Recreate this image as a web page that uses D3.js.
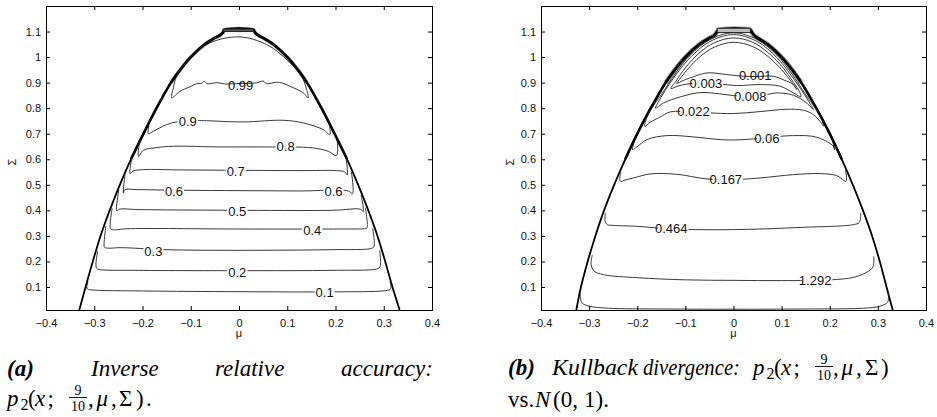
<!DOCTYPE html>
<html><head><meta charset="utf-8">
<script src="https://cdn.jsdelivr.net/npm/d3@7"></script>
<style>
body{margin:0;background:#fff;}
svg{display:block;background:#fff;}
</style></head><body>
<svg id="c" width="937" height="417"></svg>
<script>
// ---------------- data ----------------
const muDomain = [-0.4, 0.4];
const sigmaDomain = [0.01, 1.2];
const xTicks = [-0.4,-0.3,-0.2,-0.1,0,0.1,0.2,0.3,0.4];
const xTickLabels = ["\u22120.4","\u22120.3","\u22120.2","\u22120.1","0","0.1","0.2","0.3","0.4"];
const yTicks = [0.1,0.2,0.3,0.4,0.5,0.6,0.7,0.8,0.9,1.0,1.1];
const yTickLabels = ["0.1","0.2","0.3","0.4","0.5","0.6","0.7","0.8","0.9","1","1.1"];

// admissible region boundary (mu, Sigma)
const boundaryA = [[-0.331,0.01],[-0.318,0.1],[-0.303,0.2],[-0.287,0.3],[-0.268,0.4],[-0.247,0.5],[-0.224,0.6],[-0.198,0.7],[-0.171,0.8],[-0.141,0.9],[-0.122,0.95],[-0.1,1.0],[-0.071,1.05],[-0.05,1.075],[-0.04,1.085],[-0.033,1.097],[-0.03,1.106],[0.03,1.106],[0.033,1.097],[0.04,1.085],[0.05,1.075],[0.071,1.05],[0.1,1.0],[0.122,0.95],[0.141,0.9],[0.171,0.8],[0.198,0.7],[0.224,0.6],[0.247,0.5],[0.268,0.4],[0.287,0.3],[0.303,0.2],[0.318,0.1],[0.333,0.01]];
const boundaryB = [[-0.3266,0.01],[-0.317,0.1],[-0.303,0.2],[-0.287,0.3],[-0.269,0.4],[-0.248,0.5],[-0.225,0.6],[-0.2,0.7],[-0.172,0.8],[-0.141,0.9],[-0.122,0.95],[-0.1,1.0],[-0.071,1.05],[-0.05,1.075],[-0.04,1.085],[-0.035,1.097],[-0.031,1.106],[0.035,1.106],[0.038,1.097],[0.043,1.085],[0.05,1.075],[0.071,1.05],[0.1,1.0],[0.122,0.95],[0.141,0.9],[0.172,0.8],[0.2,0.7],[0.225,0.6],[0.248,0.5],[0.269,0.4],[0.288,0.3],[0.304,0.2],[0.318,0.1],[0.3308,0.01]];
const capAMu = [-0.033, 0.03], capASigma = [1.1, 1.11];
const capBMu = [-0.034, 0.035], capBSigma = [1.096, 1.113];

// (a) inverse relative accuracy contours
const acc099 = [[-0.1394,0.8402],[-0.1222,0.8663],[-0.1,0.885],[-0.0877,0.8963],[-0.078,0.897],[-0.072,0.905],[-0.066,0.896],[-0.045,0.9],[-0.03,0.895],[-0.0048,0.8963],[0.02,0.897],[0.0366,0.899],[0.05,0.906],[0.057,0.896],[0.078,0.9016],[0.09,0.898],[0.1056,0.8859],[0.1332,0.8598],[0.1436,0.8402],[0.139,0.88],[0.1298,0.925],[0.0987,0.9903],[0.0573,1.0491],[0,1.0791],[-0.06,1.0556],[-0.1015,0.9969],[-0.1291,0.925],[-0.136,0.88]];
const acc090 = [[-0.184,0.76],[-0.1877,0.7],[-0.1774,0.7097],[-0.1498,0.7358],[-0.1256,0.7475],[-0.0877,0.7514],[-0.0739,0.7514],[0.009,0.7462],[0.0918,0.7527],[0.1332,0.7423],[0.1746,0.7162],[0.1884,0.6966],[0.185,0.758]];
const acc080 = [[-0.205,0.68],[-0.2085,0.6117],[-0.1981,0.6352],[-0.1705,0.6457],[-0.136,0.6509],[-0.0393,0.6483],[0.0573,0.6483],[0.1539,0.6444],[0.185,0.6313],[0.2022,0.6144],[0.203,0.686]];
const acc070 = [[-0.222,0.607],[-0.2257,0.544],[-0.2188,0.5543],[-0.1981,0.5595],[-0.1153,0.5582],[0,0.5569],[0.1263,0.5556],[0.2022,0.5556],[0.2195,0.5504],[0.2243,0.5386],[0.222,0.607]];
const acc060 = [[-0.236,0.543],[-0.2395,0.4681],[-0.2361,0.4812],[-0.2119,0.4812],[-0.1153,0.4786],[0,0.4773],[0.1263,0.476],[0.2264,0.476],[0.2354,0.4655],[0.233,0.55]];
const acc050 = [[-0.249,0.48],[-0.2533,0.398],[-0.2478,0.4045],[-0.205,0.4029],[0,0.4003],[0.1953,0.4003],[0.2519,0.4045],[0.2575,0.396],[0.253,0.46]];
const acc040 = [[-0.263,0.408],[-0.267,0.345],[-0.266,0.327],[-0.258,0.324],[-0.2326,0.328],[0,0.327],[0.1953,0.327],[0.258,0.328],[0.265,0.33],[0.266,0.345],[0.262,0.41]];
const acc030 = [[-0.276,0.338],[-0.2796,0.27],[-0.2785,0.255],[-0.27,0.252],[-0.2464,0.254],[-0.15,0.246],[0,0.2436],[0.1953,0.2462],[0.272,0.25],[0.279,0.256],[0.2805,0.275],[0.277,0.33]];
const acc020 = [[-0.293,0.24],[-0.2965,0.185],[-0.2945,0.172],[-0.2878,0.1679],[-0.2188,0.1653],[0,0.164],[0.1953,0.1653],[0.2851,0.1705],[0.292,0.178],[0.2935,0.195],[0.2915,0.245]];
const acc010 = [[-0.313,0.12],[-0.3155,0.1],[-0.314,0.092],[-0.303,0.0883],[-0.2,0.0845],[0,0.0817],[0.2,0.081],[0.3,0.085],[0.3125,0.09],[0.315,0.1],[0.313,0.12]];
const accLabelText  = ["0.99","0.9","0.8","0.7","0.6","0.6","0.5","0.4","0.3","0.2","0.1"];
const accLabelMu    = [0.0035,-0.1063,0.0966,-0.0069,-0.1346,0.196,-0.0035,0.1519,-0.1774,-0.0035,0.1774];
const accLabelSigma = [0.8885,0.7488,0.6483,0.553,0.4747,0.472,0.3937,0.3206,0.2397,0.1574,0.0791];

// (b) Kullback divergence contours
const kl0001 = [[-0.118,0.897],[-0.105,0.908],[-0.09,0.9185],[-0.0554,0.938],[-0.0138,0.9316],[0.02,0.925],[0.046,0.924],[0.083,0.925],[0.105,0.91],[0.1246,0.8924],[0.1315,0.873],[0.12,0.904],[0.1,0.951],[0.07,1.005],[0.04,1.041],[0,1.058],[-0.04,1.039],[-0.07,1.001],[-0.095,0.953],[-0.11,0.918]];
const kl0003 = [[-0.13,0.877],[-0.115,0.887],[-0.09,0.896],[-0.0574,0.896],[-0.02,0.893],[0.0069,0.8885],[0.0554,0.8924],[0.0969,0.8859],[0.1246,0.8598],[0.14,0.845],[0.137,0.865],[0.125,0.9],[0.1,0.965],[0.07,1.02],[0.04,1.058],[0,1.075],[-0.04,1.056],[-0.07,1.018],[-0.1,0.958],[-0.12,0.905]];
const kl0008 = [[-0.162,0.8],[-0.145,0.8206],[-0.1107,0.8441],[-0.0692,0.8611],[-0.0277,0.8559],[0,0.8493],[0.0346,0.847],[0.0692,0.8533],[0.09,0.8598],[0.1246,0.8506],[0.1522,0.82],[0.1661,0.7945],[0.16,0.815],[0.145,0.86],[0.12,0.928],[0.09,0.998],[0.05,1.06],[0,1.088],[-0.05,1.06],[-0.09,0.998],[-0.12,0.93],[-0.145,0.86],[-0.156,0.825]];
const kl0022 = [[-0.1841,0.7292],[-0.173,0.7449],[-0.1522,0.7658],[-0.1315,0.7854],[-0.083,0.785],[-0.0484,0.7815],[0,0.7789],[0.0554,0.7867],[0.1107,0.7958],[0.1453,0.7919],[0.1661,0.7749],[0.1834,0.7397],[0.1869,0.7292],[0.183,0.76],[0.17,0.8],[0.15,0.853],[0.12,0.938],[0.09,1.008],[0.05,1.068],[0,1.095],[-0.05,1.068],[-0.09,1.008],[-0.12,0.938],[-0.15,0.853],[-0.17,0.8],[-0.18,0.765]];
const kl006 = [[-0.204,0.68],[-0.2097,0.637],[-0.2007,0.6483],[-0.1799,0.677],[-0.1384,0.6927],[-0.083,0.6875],[-0.0277,0.677],[0,0.6757],[0.0415,0.6796],[0.1246,0.6927],[0.173,0.6862],[0.2076,0.6509],[0.2097,0.637],[0.205,0.68]];
const kl0167 = [[-0.2345,0.55],[-0.2353,0.5138],[-0.2249,0.519],[-0.2076,0.5269],[-0.173,0.5426],[-0.1176,0.5413],[-0.0554,0.523],[0,0.5204],[0.0554,0.5269],[0.1246,0.5399],[0.1799,0.5439],[0.2145,0.536],[0.2339,0.5138],[0.2325,0.56]];
const kl0464 = [[-0.2664,0.39],[-0.2664,0.355],[-0.262,0.344],[-0.25,0.341],[-0.2007,0.3376],[-0.1294,0.3272],[0,0.3246],[0.1453,0.3337],[0.2491,0.3442],[0.2616,0.3533],[0.2644,0.39]];
const kl1292 = [[-0.2935,0.225],[-0.296,0.19],[-0.29,0.163],[-0.27,0.1483],[-0.2,0.1365],[-0.1,0.128],[0,0.126],[0.1,0.125],[0.2,0.128],[0.25,0.138],[0.2803,0.1613],[0.29,0.18],[0.2915,0.22]];
const klBottom = [[-0.319,0.085],[-0.318,0.06],[-0.315,0.038],[-0.3,0.025],[-0.26,0.017],[-0.15,0.014],[0,0.013],[0.15,0.014],[0.27,0.017],[0.305,0.025],[0.32,0.04],[0.322,0.06],[0.321,0.085]];
const klLabelText  = ["0.001","0.003","0.008","0.022","0.06","0.167","0.464","1.292"];
const klLabelMu    = [0.045,-0.0574,0.0346,-0.083,0.0692,-0.0159,-0.1294,0.1696];
const klLabelSigma = [0.9277,0.8963,0.8467,0.7867,0.681,0.5204,0.3272,0.1248];

// ---------------- drawing ----------------
const svg = d3.select("#c");
const sans = "'Liberation Sans', Arial, Helvetica, sans-serif";
const serif = "'Liberation Serif', 'Times New Roman', serif";
const TOP = 6, BOTTOM = 310;

function panel(o) {
  const x = d3.scaleLinear().domain(muDomain).range([o.left, o.right]);
  const y = d3.scaleLinear().domain(sigmaDomain).range([BOTTOM, TOP]);
  const g = svg.append("g");
  const id = "clip" + o.name;
  svg.append("defs").append("clipPath").attr("id", id)
    .append("rect").attr("x", o.left).attr("y", TOP).attr("width", o.right - o.left).attr("height", BOTTOM - TOP);
  const plot = g.append("g").attr("clip-path", `url(#${id})`);
  const open = d3.line().x(d => x(d[0])).y(d => y(d[1])).curve(d3.curveCatmullRom.alpha(0.5));
  const closed = d3.line().x(d => x(d[0])).y(d => y(d[1])).curve(d3.curveCatmullRomClosed.alpha(0.5));

  const upper = o.boundary.filter(d => d[1] > 0.82);
  plot.append("path").attr("d", open(upper)).attr("fill", "none").attr("stroke", "#9a9a9a").attr("stroke-width", o.fuzz);
  plot.append("path").attr("d", open(o.boundary)).attr("fill", "none").attr("stroke", "#000").attr("stroke-width", 1.8);
  plot.append("path").attr("d", open(o.boundary.filter(d => d[1] > 0.5))).attr("fill", "none").attr("stroke", "#000").attr("stroke-width", 2.6);
  plot.append("rect").attr("x", x(o.capMu[0])).attr("y", y(o.capSigma[1]))
    .attr("width", x(o.capMu[1]) - x(o.capMu[0])).attr("height", y(o.capSigma[0]) - y(o.capSigma[1]))
    .attr("fill", o.capFill).attr("stroke", "#222").attr("stroke-width", 1);

  o.contours.forEach(c => {
    plot.append("path").attr("d", (c.closed ? closed : open)(c.pts))
      .attr("fill", "none").attr("stroke", "#222").attr("stroke-width", 0.9);
  });

  o.labelText.forEach((t, i) => {
    const lg = plot.append("g");
    const tx = lg.append("text").attr("x", x(o.labelMu[i])).attr("y", y(o.labelSigma[i]))
      .attr("text-anchor", "middle").attr("dominant-baseline", "central")
      .attr("font-family", sans).attr("font-size", 13).attr("fill", "#111").text(t);
    if (!o.noGap.includes(i)) {
      const b = tx.node().getBBox();
      lg.insert("rect", "text").attr("x", b.x + o.gapL).attr("y", b.y + 2)
        .attr("width", b.width - o.gapL + 1).attr("height", b.height - 4).attr("fill", "#fff");
    }
  });

  const st = sel => { sel.select(".domain").remove(); sel.selectAll("line").attr("stroke", "#000"); sel.selectAll("text").attr("font-family", sans).attr("font-size", 11).attr("fill", "#111"); };
  g.append("g").attr("transform", `translate(0,${BOTTOM})`)
    .call(d3.axisBottom(x).tickValues(xTicks).tickFormat((d, i) => xTickLabels[i]).tickSizeInner(-4).tickSizeOuter(0).tickPadding(9)).call(st);
  g.append("g").attr("transform", `translate(0,${TOP})`)
    .call(d3.axisTop(x).tickValues(xTicks).tickFormat("").tickSizeInner(-4).tickSizeOuter(0)).call(st);
  g.append("g").attr("transform", `translate(${o.left},0)`)
    .call(d3.axisLeft(y).tickValues(yTicks).tickFormat((d, i) => yTickLabels[i]).tickSizeInner(-4).tickSizeOuter(0).tickPadding(5)).call(st);
  g.append("g").attr("transform", `translate(${o.right},0)`)
    .call(d3.axisRight(y).tickValues(yTicks).tickFormat("").tickSizeInner(-4).tickSizeOuter(0)).call(st);
  g.append("rect").attr("x", Math.round(o.left) + 0.5).attr("y", TOP + 0.5)
    .attr("width", Math.round(o.right) - Math.round(o.left)).attr("height", BOTTOM - TOP)
    .attr("fill", "none").attr("stroke", "#000").attr("stroke-width", 1);

  g.append("text").attr("x", x(0)).attr("y", 337).attr("text-anchor", "middle")
    .attr("font-family", sans).attr("font-size", 11).attr("fill", "#111").text("\u03bc");
  g.append("text").attr("transform", `translate(${o.sigmaX},162) rotate(-90)`).attr("text-anchor", "middle")
    .attr("font-family", sans).attr("font-size", 11).attr("fill", "#111").text("\u03a3");
}

panel({
  name: "A", left: 46, right: 432, boundary: boundaryA, capMu: capAMu, capSigma: capASigma, capFill: "#555", fuzz: 3.6,
  contours: [acc099, acc090, acc080, acc070, acc060, acc050, acc040, acc030, acc020, acc010].map((p, i) => ({pts: p, closed: i === 0})),
  labelText: accLabelText, labelMu: accLabelMu, labelSigma: accLabelSigma, noGap: [0], gapL: -1, sigmaX: 16
});
panel({
  name: "B", left: 541, right: 926, boundary: boundaryB, capMu: capBMu, capSigma: capBSigma, capFill: "#bdbdbd", fuzz: 4.5,
  contours: [kl0001, kl0003, kl0008, kl0022, kl006, kl0167, kl0464, kl1292, klBottom].map((p, i) => ({pts: p, closed: i < 4})),
  labelText: klLabelText, labelMu: klLabelMu, labelSigma: klLabelSigma, noGap: [0], gapL: 3, sigmaX: 514
});

// ---------------- captions ----------------
function t(x, y, s, opt = {}) {
  const e = svg.append("text").attr("x", x).attr("y", y).attr("font-family", serif)
    .attr("font-size", opt.size || 23).attr("font-style", opt.italic ? "italic" : "normal")
    .attr("font-weight", opt.bold ? "bold" : "normal").attr("text-anchor", opt.anchor || "start")
    .attr("fill", "#000").text(s);
  if (opt.len) e.attr("textLength", opt.len).attr("lengthAdjust", "spacingAndGlyphs");
}
function frac(cx, base) {
  t(cx, base - 11, "9", {size: 14, anchor: "middle"});
  t(cx, base + 5, "10", {size: 14, anchor: "middle"});
  svg.append("line").attr("x1", cx - 9).attr("x2", cx + 9).attr("y1", base - 8.5).attr("y2", base - 8.5).attr("stroke", "#000").attr("stroke-width", 0.9);
}
// (a)
t(7, 376, "(a)", {italic: true, bold: true});
t(91, 376, "Inverse", {italic: true});
t(215, 376, "relative", {italic: true});
t(341, 376, "accuracy:", {italic: true});
t(7, 406, "p", {italic: true});
t(20.5, 410, "2", {size: 16});
t(28, 406, "(");
t(35, 406, "x", {italic: true});
t(47.5, 406, ";");
frac(78, 406);
t(88, 406, ",");
t(96.5, 406, "\u03bc", {italic: true});
t(111, 406, ",");
t(119, 406, "\u03a3");
t(136, 406, ")");
t(146, 406, ".");
// (b)
t(508, 375, "(b)", {italic: true, bold: true});
t(552, 375, "Kullback", {italic: true, len: 86});
t(643, 375, "divergence:", {italic: true, len: 97});
t(753, 375, "p", {italic: true});
t(766.5, 379, "2", {size: 16});
t(774, 375, "(");
t(781, 375, "x", {italic: true});
t(793.5, 375, ";");
frac(824, 375);
t(833, 375, ",");
t(841.5, 375, "\u03bc", {italic: true});
t(856, 375, ",");
t(865, 375, "\u03a3");
t(881, 375, ")");
t(508, 407, "vs.");
t(535, 407, "N", {italic: true});
t(553, 407, "(0,");
t(584, 407, "1).");
</script>
</body></html>
